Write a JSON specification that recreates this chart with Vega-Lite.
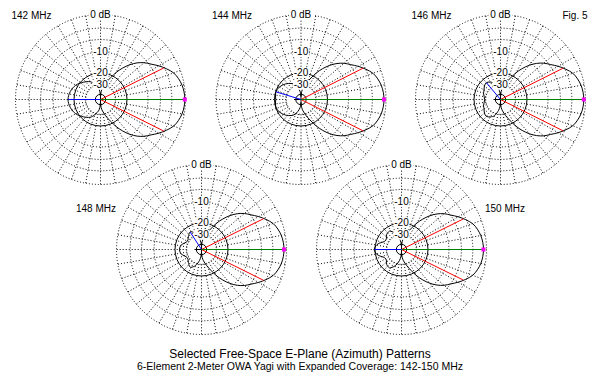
{
"$schema": "https://vega.github.io/schema/vega-lite/v6.json",
"width": 600, "height": 340, "padding": 0,
"autosize": {"type": "pad"},
"background": "white",
"config": {"view": {"stroke": null}, "text": {"font": "Liberation Sans", "fontSize": 10, "color": "black"}},
"title": {"text": "Selected Free-Space E-Plane (Azimuth) Patterns", "subtitle": "6-Element 2-Meter OWA Yagi with Expanded Coverage: 142-150 MHz", "orient": "bottom", "anchor": "middle", "offset": 9, "fontSize": 12, "subtitleFontSize": 10.5, "subtitlePadding": 1, "fontWeight": "normal", "font": "Liberation Sans", "subtitleFont": "Liberation Sans", "color": "black", "subtitleColor": "black"},
"datasets": {
"plots": [
{"f":142,"rg":[0,-3,-6,-10,-20,-30,-48],"ang":[10,20,30,40,50,60,70,80,90,100,110,120,130,140,150,160,170,180,190,200,210,220,230,240,250,260,270,280,290,300,310,320,330,340,350],"lv":[0,-10,-20,-30],"lt":["0 dB","-10","-20","-30"]},
{"f":144,"rg":[0,-3,-6,-10,-20,-30,-48],"ang":[10,20,30,40,50,60,70,80,90,100,110,120,130,140,150,160,170,180,190,200,210,220,230,240,250,260,270,280,290,300,310,320,330,340,350],"lv":[0,-10,-20,-30],"lt":["0 dB","-10","-20","-30"]},
{"f":146,"rg":[0,-3,-6,-10,-20,-30,-48],"ang":[10,20,30,40,50,60,70,80,90,100,110,120,130,140,150,160,170,180,190,200,210,220,230,240,250,260,270,280,290,300,310,320,330,340,350],"lv":[0,-10,-20,-30],"lt":["0 dB","-10","-20","-30"]},
{"f":148,"rg":[0,-3,-6,-10,-20,-30,-48],"ang":[10,20,30,40,50,60,70,80,90,100,110,120,130,140,150,160,170,180,190,200,210,220,230,240,250,260,270,280,290,300,310,320,330,340,350],"lv":[0,-10,-20,-30],"lt":["0 dB","-10","-20","-30"]},
{"f":150,"rg":[0,-3,-6,-10,-20,-30,-48],"ang":[10,20,30,40,50,60,70,80,90,100,110,120,130,140,150,160,170,180,190,200,210,220,230,240,250,260,270,280,290,300,310,320,330,340,350],"lv":[0,-10,-20,-30],"lt":["0 dB","-10","-20","-30"]}
],
"labs": [
{"f":142,"t":"142 MHz"},{"f":144,"t":"144 MHz"},{"f":146,"t":"146 MHz"},{"f":148,"t":"148 MHz"},{"f":150,"t":"150 MHz"},{"f":146,"t":"Fig. 5"}
],
"cur": [
{"f":142,"a":0,"g":-0.14,"k":"max"},{"f":142,"a":26.5,"g":-3.14,"k":"bw"},{"f":142,"a":333.5,"g":-3.14,"k":"bw"},{"f":142,"a":180,"g":-16.5,"k":"rear"},
{"f":144,"a":0,"g":-0.41,"k":"max"},{"f":144,"a":26.8,"g":-3.41,"k":"bw"},{"f":144,"a":333.2,"g":-3.41,"k":"bw"},{"f":144,"a":163,"g":-20.2,"k":"rear"},
{"f":146,"a":0,"g":-0.35,"k":"max"},{"f":146,"a":26.6,"g":-3.35,"k":"bw"},{"f":146,"a":333.4,"g":-3.35,"k":"bw"},{"f":146,"a":130,"g":-23.2,"k":"rear"},
{"f":148,"a":0,"g":-0.51,"k":"max"},{"f":148,"a":26.4,"g":-3.51,"k":"bw"},{"f":148,"a":333.6,"g":-3.51,"k":"bw"},{"f":148,"a":123,"g":-24.2,"k":"rear"},
{"f":150,"a":0,"g":-0.62,"k":"max"},{"f":150,"a":26.3,"g":-3.62,"k":"bw"},{"f":150,"a":333.7,"g":-3.62,"k":"bw"},{"f":150,"a":180,"g":-19.5,"k":"rear"}
],
"pat": [
{"f":142,"a":0,"g":-0.14},{"f":142,"a":5,"g":-0.22},{"f":142,"a":10,"g":-0.45},{"f":142,"a":15,"g":-0.88},{"f":142,"a":20,"g":-1.52},{"f":142,"a":25,"g":-2.67},{"f":142,"a":30,"g":-4.0},{"f":142,"a":35,"g":-5.5},{"f":142,"a":40,"g":-6.8},{"f":142,"a":45,"g":-8.5},{"f":142,"a":50,"g":-10.8},{"f":142,"a":55,"g":-13.7},{"f":142,"a":60,"g":-17.2},{"f":142,"a":65,"g":-21.6},{"f":142,"a":70,"g":-25.6},{"f":142,"a":75,"g":-29.6},{"f":142,"a":80,"g":-34},{"f":142,"a":85,"g":-40},{"f":142,"a":90,"g":-57},{"f":142,"a":95,"g":-40.5},{"f":142,"a":100,"g":-34.3},{"f":142,"a":110,"g":-28.7},{"f":142,"a":120,"g":-24.4},{"f":142,"a":135,"g":-21.4},{"f":142,"a":150,"g":-18.7},{"f":142,"a":165,"g":-17.2},{"f":142,"a":180,"g":-16.5},{"f":142,"a":195,"g":-17.2},{"f":142,"a":210,"g":-18.7},{"f":142,"a":225,"g":-21.4},{"f":142,"a":240,"g":-24.4},{"f":142,"a":250,"g":-28.7},{"f":142,"a":260,"g":-34.3},{"f":142,"a":265,"g":-40.5},{"f":142,"a":270,"g":-57},{"f":142,"a":275,"g":-40},{"f":142,"a":280,"g":-34},{"f":142,"a":285,"g":-29.6},{"f":142,"a":290,"g":-25.6},{"f":142,"a":295,"g":-21.6},{"f":142,"a":300,"g":-17.2},{"f":142,"a":305,"g":-13.7},{"f":142,"a":310,"g":-10.8},{"f":142,"a":315,"g":-8.5},{"f":142,"a":320,"g":-6.8},{"f":142,"a":325,"g":-5.5},{"f":142,"a":330,"g":-4.0},{"f":142,"a":335,"g":-2.67},{"f":142,"a":340,"g":-1.52},{"f":142,"a":345,"g":-0.88},{"f":142,"a":350,"g":-0.45},{"f":142,"a":355,"g":-0.22},
{"f":144,"a":0,"g":-0.41},{"f":144,"a":5,"g":-0.49},{"f":144,"a":10,"g":-0.72},{"f":144,"a":15,"g":-1.15},{"f":144,"a":20,"g":-1.79},{"f":144,"a":25,"g":-2.94},{"f":144,"a":30,"g":-4.28},{"f":144,"a":35,"g":-5.76},{"f":144,"a":40,"g":-7.06},{"f":144,"a":45,"g":-8.8},{"f":144,"a":50,"g":-11.1},{"f":144,"a":55,"g":-14},{"f":144,"a":60,"g":-17.5},{"f":144,"a":65,"g":-21.9},{"f":144,"a":70,"g":-25.9},{"f":144,"a":75,"g":-29.9},{"f":144,"a":80,"g":-34.3},{"f":144,"a":85,"g":-40.5},{"f":144,"a":90,"g":-57},{"f":144,"a":95,"g":-42.9},{"f":144,"a":100,"g":-36.7},{"f":144,"a":110,"g":-29.8},{"f":144,"a":120,"g":-26.2},{"f":144,"a":135,"g":-23.2},{"f":144,"a":150,"g":-21.0},{"f":144,"a":163,"g":-20.2},{"f":144,"a":172,"g":-20.5},{"f":144,"a":180,"g":-20.8},{"f":144,"a":188,"g":-20.5},{"f":144,"a":197,"g":-20.2},{"f":144,"a":210,"g":-21.0},{"f":144,"a":225,"g":-23.2},{"f":144,"a":240,"g":-26.2},{"f":144,"a":250,"g":-29.8},{"f":144,"a":260,"g":-36.7},{"f":144,"a":265,"g":-42.9},{"f":144,"a":270,"g":-57},{"f":144,"a":275,"g":-40.5},{"f":144,"a":280,"g":-34.3},{"f":144,"a":285,"g":-29.9},{"f":144,"a":290,"g":-25.9},{"f":144,"a":295,"g":-21.9},{"f":144,"a":300,"g":-17.5},{"f":144,"a":305,"g":-14},{"f":144,"a":310,"g":-11.1},{"f":144,"a":315,"g":-8.8},{"f":144,"a":320,"g":-7.06},{"f":144,"a":325,"g":-5.76},{"f":144,"a":330,"g":-4.28},{"f":144,"a":335,"g":-2.94},{"f":144,"a":340,"g":-1.79},{"f":144,"a":345,"g":-1.15},{"f":144,"a":350,"g":-0.72},{"f":144,"a":355,"g":-0.49},
{"f":146,"a":0,"g":-0.35},{"f":146,"a":5,"g":-0.43},{"f":146,"a":10,"g":-0.66},{"f":146,"a":15,"g":-1.09},{"f":146,"a":20,"g":-1.73},{"f":146,"a":25,"g":-2.88},{"f":146,"a":30,"g":-4.22},{"f":146,"a":35,"g":-5.7},{"f":146,"a":40,"g":-7.0},{"f":146,"a":45,"g":-8.75},{"f":146,"a":50,"g":-11.05},{"f":146,"a":55,"g":-13.95},{"f":146,"a":60,"g":-17.45},{"f":146,"a":65,"g":-21.85},{"f":146,"a":70,"g":-25.85},{"f":146,"a":75,"g":-29.85},{"f":146,"a":80,"g":-34.3},{"f":146,"a":85,"g":-40.5},{"f":146,"a":90,"g":-57},{"f":146,"a":95,"g":-42.9},{"f":146,"a":100,"g":-35.1},{"f":146,"a":110,"g":-27.6},{"f":146,"a":120,"g":-24.8},{"f":146,"a":130,"g":-23.2},{"f":146,"a":140,"g":-24.0},{"f":146,"a":150,"g":-25.7},{"f":146,"a":160,"g":-26.6},{"f":146,"a":170,"g":-28.1},{"f":146,"a":180,"g":-28.7},{"f":146,"a":190,"g":-28.1},{"f":146,"a":200,"g":-26.6},{"f":146,"a":210,"g":-25.7},{"f":146,"a":220,"g":-24.0},{"f":146,"a":230,"g":-23.2},{"f":146,"a":240,"g":-24.8},{"f":146,"a":250,"g":-27.6},{"f":146,"a":260,"g":-35.1},{"f":146,"a":265,"g":-42.9},{"f":146,"a":270,"g":-57},{"f":146,"a":275,"g":-40.5},{"f":146,"a":280,"g":-34.3},{"f":146,"a":285,"g":-29.85},{"f":146,"a":290,"g":-25.85},{"f":146,"a":295,"g":-21.85},{"f":146,"a":300,"g":-17.45},{"f":146,"a":305,"g":-13.95},{"f":146,"a":310,"g":-11.05},{"f":146,"a":315,"g":-8.75},{"f":146,"a":320,"g":-7.0},{"f":146,"a":325,"g":-5.7},{"f":146,"a":330,"g":-4.22},{"f":146,"a":335,"g":-2.88},{"f":146,"a":340,"g":-1.73},{"f":146,"a":345,"g":-1.09},{"f":146,"a":350,"g":-0.66},{"f":146,"a":355,"g":-0.43},
{"f":148,"a":0,"g":-0.51},{"f":148,"a":5,"g":-0.59},{"f":148,"a":10,"g":-0.82},{"f":148,"a":15,"g":-1.25},{"f":148,"a":20,"g":-1.89},{"f":148,"a":25,"g":-3.04},{"f":148,"a":30,"g":-4.38},{"f":148,"a":35,"g":-5.86},{"f":148,"a":40,"g":-7.16},{"f":148,"a":45,"g":-8.9},{"f":148,"a":50,"g":-11.2},{"f":148,"a":55,"g":-14.1},{"f":148,"a":60,"g":-17.6},{"f":148,"a":65,"g":-22},{"f":148,"a":70,"g":-26},{"f":148,"a":75,"g":-30},{"f":148,"a":80,"g":-34.4},{"f":148,"a":85,"g":-40.6},{"f":148,"a":90,"g":-57},{"f":148,"a":95,"g":-42.9},{"f":148,"a":100,"g":-35.1},{"f":148,"a":110,"g":-27.6},{"f":148,"a":120,"g":-24.4},{"f":148,"a":125,"g":-24.2},{"f":148,"a":135,"g":-26.2},{"f":148,"a":145,"g":-28.1},{"f":148,"a":155,"g":-27.6},{"f":148,"a":165,"g":-24.8},{"f":148,"a":172,"g":-23.6},{"f":148,"a":180,"g":-23.2},{"f":148,"a":188,"g":-23.6},{"f":148,"a":195,"g":-24.8},{"f":148,"a":205,"g":-27.6},{"f":148,"a":215,"g":-28.1},{"f":148,"a":225,"g":-26.2},{"f":148,"a":235,"g":-24.2},{"f":148,"a":240,"g":-24.4},{"f":148,"a":250,"g":-27.6},{"f":148,"a":260,"g":-35.1},{"f":148,"a":265,"g":-42.9},{"f":148,"a":270,"g":-57},{"f":148,"a":275,"g":-40.6},{"f":148,"a":280,"g":-34.4},{"f":148,"a":285,"g":-30},{"f":148,"a":290,"g":-26},{"f":148,"a":295,"g":-22},{"f":148,"a":300,"g":-17.6},{"f":148,"a":305,"g":-14.1},{"f":148,"a":310,"g":-11.2},{"f":148,"a":315,"g":-8.9},{"f":148,"a":320,"g":-7.16},{"f":148,"a":325,"g":-5.86},{"f":148,"a":330,"g":-4.38},{"f":148,"a":335,"g":-3.04},{"f":148,"a":340,"g":-1.89},{"f":148,"a":345,"g":-1.25},{"f":148,"a":350,"g":-0.82},{"f":148,"a":355,"g":-0.59},
{"f":150,"a":0,"g":-0.62},{"f":150,"a":5,"g":-0.7},{"f":150,"a":10,"g":-0.93},{"f":150,"a":15,"g":-1.36},{"f":150,"a":20,"g":-2.0},{"f":150,"a":25,"g":-3.15},{"f":150,"a":30,"g":-4.49},{"f":150,"a":35,"g":-5.97},{"f":150,"a":40,"g":-7.27},{"f":150,"a":45,"g":-9.0},{"f":150,"a":50,"g":-11.3},{"f":150,"a":55,"g":-14.2},{"f":150,"a":60,"g":-17.7},{"f":150,"a":65,"g":-22.1},{"f":150,"a":70,"g":-26.1},{"f":150,"a":75,"g":-30.1},{"f":150,"a":80,"g":-34.5},{"f":150,"a":85,"g":-40.7},{"f":150,"a":90,"g":-57},{"f":150,"a":95,"g":-42.9},{"f":150,"a":100,"g":-35.1},{"f":150,"a":110,"g":-27.6},{"f":150,"a":120,"g":-24.0},{"f":150,"a":125,"g":-23.2},{"f":150,"a":135,"g":-24.0},{"f":150,"a":145,"g":-26.2},{"f":150,"a":155,"g":-25.7},{"f":150,"a":165,"g":-22.1},{"f":150,"a":172,"g":-20.3},{"f":150,"a":180,"g":-19.5},{"f":150,"a":188,"g":-20.3},{"f":150,"a":195,"g":-22.1},{"f":150,"a":205,"g":-25.7},{"f":150,"a":215,"g":-26.2},{"f":150,"a":225,"g":-24.0},{"f":150,"a":235,"g":-23.2},{"f":150,"a":240,"g":-24.0},{"f":150,"a":250,"g":-27.6},{"f":150,"a":260,"g":-35.1},{"f":150,"a":265,"g":-42.9},{"f":150,"a":270,"g":-57},{"f":150,"a":275,"g":-40.7},{"f":150,"a":280,"g":-34.5},{"f":150,"a":285,"g":-30.1},{"f":150,"a":290,"g":-26.1},{"f":150,"a":295,"g":-22.1},{"f":150,"a":300,"g":-17.7},{"f":150,"a":305,"g":-14.2},{"f":150,"a":310,"g":-11.3},{"f":150,"a":315,"g":-9.0},{"f":150,"a":320,"g":-7.27},{"f":150,"a":325,"g":-5.97},{"f":150,"a":330,"g":-4.49},{"f":150,"a":335,"g":-3.15},{"f":150,"a":340,"g":-2.0},{"f":150,"a":345,"g":-1.36},{"f":150,"a":350,"g":-0.93},{"f":150,"a":355,"g":-0.7}
]
},
"layer": [
{
"data": {"name": "plots"},
"transform": [
{"flatten": ["ang"]},
{"calculate": "datum.f==142?100.5:datum.f==144?301:datum.f==146?500.5:datum.f==148?201.5:401.5", "as": "cx"},
{"calculate": "datum.f<147?99.5:249.5", "as": "cy"},
{"calculate": "85*pow(0.89,15)", "as": "r0"},
{"calculate": "datum.cx+datum.r0*cos(datum.ang*PI/180)", "as": "x"},
{"calculate": "datum.cy-datum.r0*sin(datum.ang*PI/180)", "as": "y"},
{"calculate": "datum.cx+85*cos(datum.ang*PI/180)", "as": "x2"},
{"calculate": "datum.cy-85*sin(datum.ang*PI/180)", "as": "y2"}
],
"mark": {"type": "rule", "color": "black", "strokeWidth": 1, "strokeDash": [1, 2]},
"encoding": {
"x": {"field": "x", "type": "quantitative", "scale": {"domain": [0, 600], "nice": false, "zero": false}, "axis": null},
"y": {"field": "y", "type": "quantitative", "scale": {"domain": [0, 340], "reverse": true, "nice": false, "zero": false}, "axis": null},
"x2": {"field": "x2"}, "y2": {"field": "y2"}
}
},
{
"data": {"name": "plots"},
"transform": [
{"flatten": ["rg"]},
{"filter": "datum.rg != -20 && datum.rg != -48"},
{"calculate": "datum.f==142?100.5:datum.f==144?301:datum.f==146?500.5:datum.f==148?201.5:401.5", "as": "x"},
{"calculate": "datum.f<147?99.5:249.5", "as": "y"},
{"calculate": "pow(2*85*pow(0.89,-datum.rg/2),2)", "as": "sz"}
],
"mark": {"type": "point", "shape": "circle", "filled": false, "color": "black", "strokeWidth": 1, "strokeDash": [1, 2], "opacity": 1},
"encoding": {
"x": {"field": "x", "type": "quantitative"},
"y": {"field": "y", "type": "quantitative"},
"size": {"field": "sz", "type": "quantitative", "scale": null}
}
},
{
"data": {"name": "plots"},
"transform": [
{"flatten": ["rg"]},
{"filter": "datum.rg == -20 || datum.rg == -48"},
{"calculate": "datum.f==142?100.5:datum.f==144?301:datum.f==146?500.5:datum.f==148?201.5:401.5", "as": "x"},
{"calculate": "datum.f<147?99.5:249.5", "as": "y"},
{"calculate": "pow(2*85*pow(0.89,-datum.rg/2),2)", "as": "sz"}
],
"mark": {"type": "point", "shape": "circle", "filled": false, "color": "black", "strokeWidth": 1, "opacity": 1},
"encoding": {
"x": {"field": "x", "type": "quantitative"},
"y": {"field": "y", "type": "quantitative"},
"size": {"field": "sz", "type": "quantitative", "scale": null}
}
},
{
"data": {"name": "plots"},
"transform": [
{"calculate": "[0,90,180,270]", "as": "ca"},
{"flatten": ["ca"]},
{"calculate": "datum.f==142?100.5:datum.f==144?301:datum.f==146?500.5:datum.f==148?201.5:401.5", "as": "x"},
{"calculate": "datum.f<147?99.5:249.5", "as": "y"},
{"calculate": "datum.x+7*cos(datum.ca*PI/180)", "as": "x2"},
{"calculate": "datum.y-7*sin(datum.ca*PI/180)", "as": "y2"}
],
"mark": {"type": "rule", "color": "black", "strokeWidth": 1},
"encoding": {
"x": {"field": "x", "type": "quantitative"},
"y": {"field": "y", "type": "quantitative"},
"x2": {"field": "x2"}, "y2": {"field": "y2"}
}
},
{
"data": {"name": "pat"},
"transform": [
{"calculate": "datum.f==142?100.5:datum.f==144?301:datum.f==146?500.5:datum.f==148?201.5:401.5", "as": "cx"},
{"calculate": "datum.f<147?99.5:249.5", "as": "cy"},
{"calculate": "85*pow(0.89,-datum.g/2)", "as": "r"},
{"calculate": "datum.cx+datum.r*cos(datum.a*PI/180)", "as": "x"},
{"calculate": "datum.cy-datum.r*sin(datum.a*PI/180)", "as": "y"}
],
"mark": {"type": "line", "interpolate": "cardinal-closed", "color": "black", "strokeWidth": 1},
"encoding": {
"x": {"field": "x", "type": "quantitative"},
"y": {"field": "y", "type": "quantitative"},
"detail": {"field": "f", "type": "nominal"},
"order": {"field": "a", "type": "quantitative"}
}
},
{
"data": {"name": "plots"},
"transform": [
{"flatten": ["lv", "lt"]},
{"calculate": "datum.f==142?100.5:datum.f==144?301:datum.f==146?500.5:datum.f==148?201.5:401.5", "as": "cx"},
{"calculate": "datum.f<147?99.5:249.5", "as": "cy"},
{"calculate": "datum.cy-85*pow(0.89,-datum.lv/2)", "as": "ly"},
{"calculate": "datum.lt=='0 dB'?12:8", "as": "hw"},
{"calculate": "datum.cx-datum.hw", "as": "x"},
{"calculate": "datum.cx+datum.hw", "as": "x2"},
{"calculate": "datum.ly-5", "as": "y"},
{"calculate": "datum.ly+5", "as": "y2"}
],
"mark": {"type": "rect", "color": "white", "opacity": 1},
"encoding": {
"x": {"field": "x", "type": "quantitative"},
"y": {"field": "y", "type": "quantitative"},
"x2": {"field": "x2"}, "y2": {"field": "y2"}
}
},
{
"data": {"name": "cur"},
"transform": [
{"filter": "datum.a != 0 && datum.a != 180"},
{"calculate": "[0,1]", "as": "p"},
{"flatten": ["p"]},
{"calculate": "datum.f + '_' + datum.a", "as": "id"},
{"calculate": "datum.f==142?100.5:datum.f==144?301:datum.f==146?500.5:datum.f==148?201.5:401.5", "as": "cx"},
{"calculate": "datum.f<147?99.5:249.5", "as": "cy"},
{"calculate": "datum.p*85*pow(0.89,-datum.g/2)", "as": "r"},
{"calculate": "datum.cx+datum.r*cos(datum.a*PI/180)", "as": "x"},
{"calculate": "datum.cy-datum.r*sin(datum.a*PI/180)", "as": "y"}
],
"mark": {"type": "line", "strokeWidth": 1},
"encoding": {
"x": {"field": "x", "type": "quantitative"},
"y": {"field": "y", "type": "quantitative"},
"detail": {"field": "id", "type": "nominal"},
"order": {"field": "p", "type": "quantitative"},
"color": {"field": "k", "type": "nominal", "scale": {"domain": ["bw", "max", "rear"], "range": ["#ff0000", "#008000", "#0000ff"]}, "legend": null}
}
},
{
"data": {"name": "cur"},
"transform": [
{"filter": "datum.a == 0 || datum.a == 180"},
{"calculate": "datum.f==142?100.5:datum.f==144?301:datum.f==146?500.5:datum.f==148?201.5:401.5", "as": "x"},
{"calculate": "datum.f<147?99.5:249.5", "as": "cy"},
{"calculate": "85*pow(0.89,-datum.g/2)", "as": "r"},
{"calculate": "datum.x+datum.r*cos(datum.a*PI/180)", "as": "x2"},
{"calculate": "datum.cy-0.5", "as": "y"},
{"calculate": "datum.cy+0.5", "as": "y2"}
],
"mark": {"type": "rect", "opacity": 1},
"encoding": {
"x": {"field": "x", "type": "quantitative"},
"y": {"field": "y", "type": "quantitative"},
"x2": {"field": "x2"}, "y2": {"field": "y2"},
"color": {"field": "k", "type": "nominal", "scale": {"domain": ["bw", "max", "rear"], "range": ["#ff0000", "#008000", "#0000ff"]}, "legend": null}
}
},
{
"data": {"name": "cur"},
"transform": [
{"filter": "datum.k == 'max'"},
{"calculate": "datum.f==142?100.5:datum.f==144?301:datum.f==146?500.5:datum.f==148?201.5:401.5", "as": "cx"},
{"calculate": "datum.f<147?99.5:249.5", "as": "cy"},
{"calculate": "85*pow(0.89,-datum.g/2)", "as": "r"},
{"calculate": "datum.cx+datum.r*cos(datum.a*PI/180)", "as": "x"},
{"calculate": "datum.cy-datum.r*sin(datum.a*PI/180)", "as": "y"}
],
"mark": {"type": "point", "shape": "square", "filled": true, "color": "#ff00ff", "size": 16, "opacity": 1},
"encoding": {
"x": {"field": "x", "type": "quantitative"},
"y": {"field": "y", "type": "quantitative"}
}
},
{
"data": {"name": "plots"},
"transform": [
{"flatten": ["lv", "lt"]},
{"calculate": "datum.f==142?100.5:datum.f==144?301:datum.f==146?500.5:datum.f==148?201.5:401.5", "as": "x"},
{"calculate": "datum.f<147?99.5:249.5", "as": "cy"},
{"calculate": "datum.cy-85*pow(0.89,-datum.lv/2)", "as": "y"}
],
"mark": {"type": "text", "align": "center", "baseline": "middle", "fontSize": 10},
"encoding": {
"x": {"field": "x", "type": "quantitative"},
"y": {"field": "y", "type": "quantitative"},
"text": {"field": "lt"}
}
},
{
"data": {"name": "labs"},
"transform": [
{"calculate": "datum.f==142?100.5:datum.f==144?301:datum.f==146?500.5:datum.f==148?201.5:401.5", "as": "cx"},
{"calculate": "datum.f<147?99.5:249.5", "as": "cy"},
{"calculate": "datum.t=='Fig. 5'?datum.cx+62:datum.f==148?datum.cx-125.5:datum.f==150?datum.cx+83.5:datum.cx-89", "as": "x"},
{"calculate": "datum.f<147?datum.cy-83.5:datum.cy-41", "as": "y"}
],
"mark": {"type": "text", "align": "left", "baseline": "middle", "fontSize": 10},
"encoding": {
"x": {"field": "x", "type": "quantitative"},
"y": {"field": "y", "type": "quantitative"},
"text": {"field": "t"}
}
}
]
}
